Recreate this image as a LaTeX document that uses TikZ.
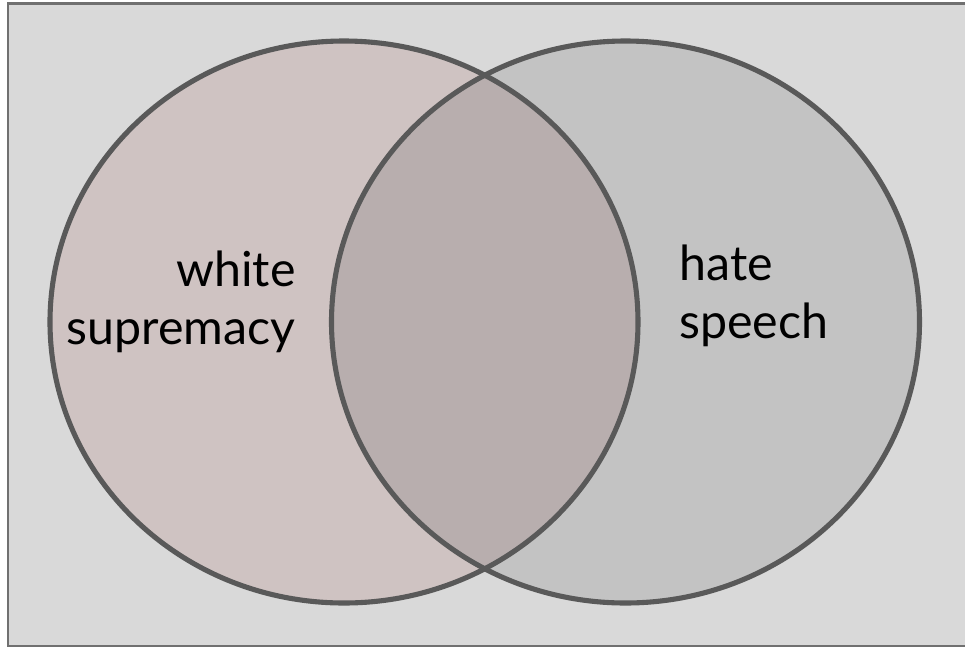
\documentclass[tikz,border=0pt]{standalone}
\usepackage{fontspec}
\setmainfont{Lato}
\usetikzlibrary{positioning}
\definecolor{bgGray}{HTML}{D9D9D9}
\definecolor{frameGray}{HTML}{707070}
\definecolor{leftFill}{HTML}{CFC3C2}
\definecolor{rightFill}{HTML}{C3C3C3}
\definecolor{bothFill}{HTML}{B8AEAE}
\definecolor{ringGray}{HTML}{595959}

\begin{document}
\begin{tikzpicture}[x=0.02cm, y=-0.02cm, font=\fontsize{27.5}{33}\selectfont,
    ring/.style={draw=ringGray, line width=2.9pt},
    label/.style={inner sep=0pt, text=black}]
    \useasboundingbox (0,0) rectangle (965,647);
    % backdrop
    \draw[fill=bgGray, draw=frameGray, line width=1.2pt] (8,3.5) rectangle (980,646);

    % the two sets
    \fill[leftFill] (344,322) ellipse [x radius=294, y radius=281];
    \fill[rightFill] (625.5,322) ellipse [x radius=294, y radius=281];
    \begin{scope}
        \clip (344,322) ellipse [x radius=294, y radius=281];
        \fill[bothFill] (625.5,322) ellipse [x radius=294, y radius=281];
    \end{scope}
    \draw[ring] (344,322) ellipse [x radius=294, y radius=281];
    \draw[ring] (625.5,322) ellipse [x radius=294, y radius=281];

    \node[label, align=right, anchor=east] (ws) at (296,302) {white\\supremacy};
    \node[label, align=left, anchor=west] (hs) at (679,296) {hate\\speech};
\end{tikzpicture}
\end{document}
